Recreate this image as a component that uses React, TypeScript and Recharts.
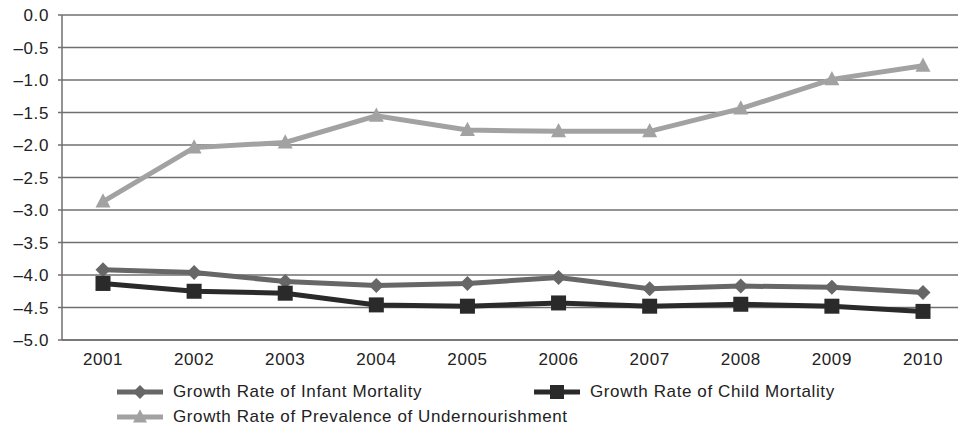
import React from 'react';
import { LineChart, Line, XAxis, YAxis, CartesianGrid, Legend } from 'recharts';

// values
const years = ['2001', '2002', '2003', '2004', '2005', '2006', '2007', '2008', '2009', '2010'];
const infantMortality = [-3.92, -3.96, -4.1, -4.16, -4.13, -4.04, -4.21, -4.17, -4.19, -4.27];
const childMortality = [-4.13, -4.25, -4.28, -4.46, -4.48, -4.43, -4.48, -4.45, -4.48, -4.56];
const undernourishment = [-2.87, -2.04, -1.96, -1.55, -1.77, -1.79, -1.79, -1.44, -0.99, -0.78];
const yTicks = [0, -0.5, -1, -1.5, -2, -2.5, -3, -3.5, -4, -4.5, -5];

const data = years.map((year, i) => ({
  year,
  infant: infantMortality[i],
  child: childMortality[i],
  under: undernourishment[i],
}));

const FONT = '"Liberation Sans", Arial, sans-serif';
const GRID = '#707070';

type Shape = 'diamond' | 'square' | 'triangle';

const series: { key: string; name: string; color: string; shape: Shape }[] = [
  { key: 'infant', name: 'Growth Rate of Infant Mortality', color: '#676767', shape: 'diamond' },
  { key: 'child', name: 'Growth Rate of Child Mortality', color: '#2a2a2a', shape: 'square' },
  { key: 'under', name: 'Growth Rate of Prevalence of Undernourishment', color: '#a2a2a2', shape: 'triangle' },
];

const marker = (shape: Shape, cx: number, cy: number, color: string, s: number) => {
  if (shape === 'diamond') {
    return <polygon points={`${cx},${cy - s} ${cx + s},${cy} ${cx},${cy + s} ${cx - s},${cy}`} fill={color} />;
  }
  if (shape === 'square') {
    return <rect x={cx - s} y={cy - s} width={s * 2} height={s * 2} fill={color} />;
  }
  return <polygon points={`${cx},${cy - s * 1.1} ${cx + s},${cy + s * 0.8} ${cx - s},${cy + s * 0.8}`} fill={color} />;
};

const makeDot = (shape: Shape, color: string) => (props: any) => {
  const { cx, cy, index } = props;
  if (cx == null || cy == null) return <g key={index} />;
  return <g key={index}>{marker(shape, cx, cy, color, 7.5)}</g>;
};

// legend slots: [left of symbol, top of row]
const legendSlots = [
  { x: 117, y: 22 },
  { x: 534, y: 22 },
  { x: 117, y: 47 },
];

const renderLegend = () => (
  <div style={{ position: 'relative', width: 959, height: 59, fontFamily: FONT }}>
    {series.map((s, i) => (
      <div
        key={s.key}
        style={{
          position: 'absolute',
          left: legendSlots[i].x,
          top: legendSlots[i].y - 12,
          height: 24,
          display: 'flex',
          alignItems: 'center',
          whiteSpace: 'nowrap',
        }}
      >
        <svg width={46} height={24}>
          <line x1={0} y1={12} x2={46} y2={12} stroke={s.color} strokeWidth={5} />
          {marker(s.shape, 23, 12, s.color, 7)}
        </svg>
        <span style={{ marginLeft: 10, fontSize: 17, letterSpacing: 0.6, color: '#222' }}>{s.name}</span>
      </div>
    ))}
  </div>
);

const fmt = (v: number) => (v < 0 ? '\u2013' + Math.abs(v).toFixed(1) : v.toFixed(1));

export default function App() {
  return (
    <div style={{ width: 959, height: 429, background: '#fff' }}>
      <style>{`body{margin:0}`}</style>
      <LineChart width={959} height={429} data={data} margin={{ top: 15, right: 1, left: 0, bottom: 0 }}>
        <CartesianGrid vertical={false} stroke={GRID} strokeWidth={1.5} />
        <XAxis
          dataKey="year"
          height={30}
          padding={{ left: 41, right: 35 }}
          tickLine={false}
          tickSize={0}
          tickMargin={13}
          axisLine={{ stroke: GRID, strokeWidth: 1.5 }}
          tick={{ fill: '#222', fontSize: 17, fontFamily: FONT, letterSpacing: 0.6 }}
          interval={0}
        />
        <YAxis
          width={62}
          domain={[-5, 0]}
          ticks={yTicks}
          interval={0}
          tickFormatter={fmt}
          tickSize={4}
          tickMargin={9}
          tickLine={{ stroke: GRID, strokeWidth: 1.5 }}
          axisLine={{ stroke: GRID, strokeWidth: 1.5 }}
          tick={{ fill: '#222', fontSize: 17, fontFamily: FONT, letterSpacing: 0.6 }}
        />
        <Legend verticalAlign="bottom" content={renderLegend} wrapperStyle={{ left: 0, width: 959 }} />
        {series.map((s) => (
          <Line
            key={s.key}
            dataKey={s.key}
            name={s.name}
            stroke={s.color}
            strokeWidth={5}
            dot={makeDot(s.shape, s.color)}
            activeDot={false}
            isAnimationActive={false}
          />
        ))}
      </LineChart>
    </div>
  );
}
